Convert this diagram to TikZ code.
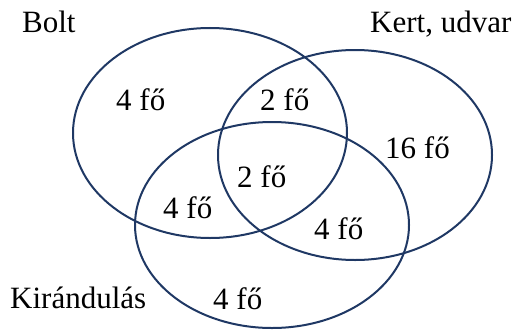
\documentclass[tikz,border=0pt]{standalone}
\usepackage{fontspec}
\setmainfont{Liberation Serif}
\usetikzlibrary{shapes.geometric}
\definecolor{venn}{HTML}{1F3864}
\tikzset{
  setring/.style={ellipse, draw=venn, line width=2pt, inner sep=0pt, minimum width=274pt, minimum height=210pt},
  lbl/.style={anchor=base west, inner sep=0pt, font=\fontsize{31}{37}\selectfont, text=black}
}
\begin{document}
\begin{tikzpicture}[x=1pt,y=-1pt]
\useasboundingbox (0,0) rectangle (518,329);
\node[setring] (bolt) at (210,133) {};
\node[setring] (kert) at (355,155) {};
\node[setring, minimum height=206pt] (kir) at (272,225) {};
\node[lbl] (tbolt) at (22,33) {Bolt};
\node[lbl] (tkert) at (370,33) {Kert, udvar};
\node[lbl] (tkir) at (10,308) {Kirándulás};
\node[lbl] (n1) at (116,110) {4 fő};
\node[lbl] (n2) at (260,110) {2 fő};
\node[lbl] (n3) at (385,158) {16 fő};
\node[lbl] (n4) at (237,187) {2 fő};
\node[lbl] (n5) at (163,218) {4 fő};
\node[lbl] (n6) at (314,239) {4 fő};
\node[lbl] (n7) at (213,309) {4 fő};
\end{tikzpicture}
\end{document}
